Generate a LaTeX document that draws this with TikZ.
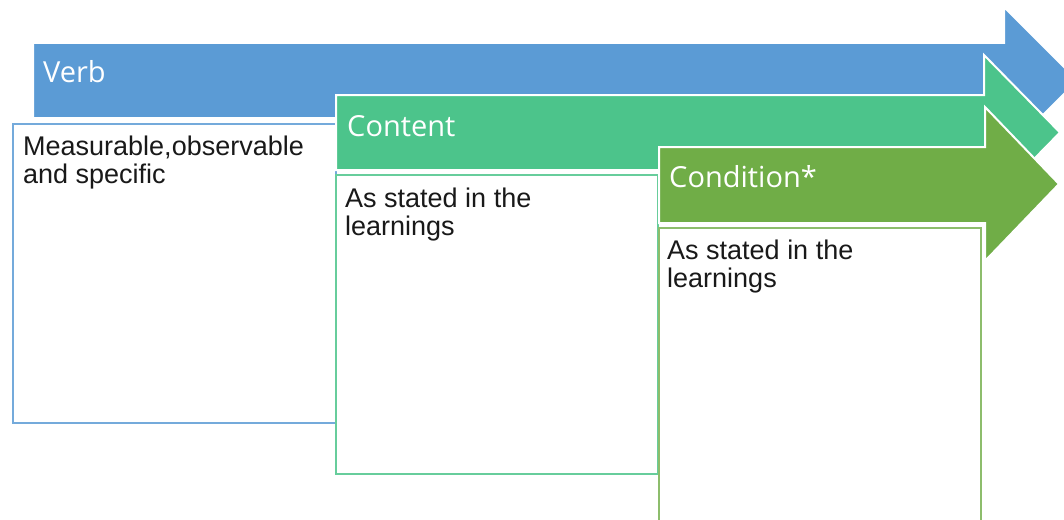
\documentclass[tikz,border=0pt]{standalone}
\usepackage{fontspec}
\setmainfont{Liberation Sans}
\newfontfamily\headfont{Open Sans}
\definecolor{verbblue}{HTML}{5B9BD5}
\definecolor{contgreen}{HTML}{4CC48B}
\definecolor{condgreen}{HTML}{70AD47}
\tikzset{
  arrowshape/.style={draw=white, line width=2pt, line join=miter},
  boxshape/.style={fill=white, line width=2.2pt},
  headtext/.style={anchor=base west, inner sep=0pt, text=white, font=\headfont\fontsize{29}{34}\selectfont},
  bodytext/.style={anchor=base west, inner sep=0pt, align=left, text=black!90, font=\fontsize{27}{28.5}\selectfont},
}
\begin{document}
\begin{tikzpicture}[x=1pt,y=-1pt]
\useasboundingbox (0,0) rectangle (1064,519);
\clip (0,0) rectangle (1064,519);
% Verb arrow
\path[arrowshape, fill=verbblue] (33,43) -- (1004,43) -- (1004,7) -- (1077.5,80.5) -- (1004,154) -- (1004,118) -- (33,118) -- cycle;
\path[boxshape, draw=verbblue!85!white] (13,124) rectangle (336,423);
\node[headtext] (verb) at (43,82) {Verb};
\node[bodytext] (verbtxt) at (23,183.5) {Measurable,observable\\and specific};
% Content arrow
\path[arrowshape, fill=contgreen] (336,95) -- (984,95) -- (984,55) -- (1060,132.5) -- (984,210) -- (984,170) -- (336,170) -- cycle;
\path[boxshape, draw=contgreen!85!white] (336,175) rectangle (658,474);
\node[headtext] (content) at (347,136) {Content};
\node[bodytext] (contenttxt) at (345,235.5) {As stated in the\\learnings};
% Condition arrow
\path[arrowshape, fill=condgreen] (659,147) -- (985,147) -- (985,107) -- (1059,184) -- (985,261) -- (985,223) -- (659,223) -- cycle;
\path[boxshape, draw=condgreen!80!white] (659,228) rectangle (981,540);
\node[headtext] (condition) at (669,187) {Condition*};
\node[bodytext] (conditiontxt) at (667,287.5) {As stated in the\\learnings};
\end{tikzpicture}
\end{document}
